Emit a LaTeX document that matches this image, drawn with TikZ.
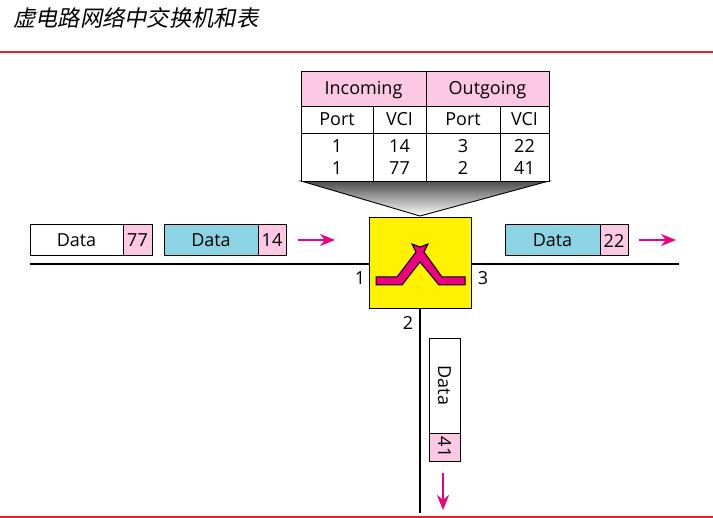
\documentclass[tikz,border=0pt]{standalone}
\usepackage{fontspec}
\setmainfont{Open Sans}
\newfontfamily\cjk[FakeSlant=0.2]{Noto Sans CJK SC}
\usetikzlibrary{arrows.meta}
\definecolor{pinkcell}{RGB}{252,200,228}
\definecolor{bluecell}{RGB}{140,212,228}
\definecolor{switchpink}{RGB}{236,0,130}
\definecolor{rulered}{RGB}{240,30,35}
\tikzset{
  cell/.style={draw=black,line width=0.9pt,inner sep=0pt,font=\fontsize{18}{18}\selectfont,text=black},
  flowarrow/.style={-{Stealth[length=15pt,width=12pt]},switchpink,line width=1.8pt},
  wire/.style={black,line width=1.6pt},
  rule/.style={rulered,line width=1.3pt}
}
\newcommand{\cellbox}[6]{% name, x1, y1, x2, y2, fill
  \path[cell,fill=#6] (#2,#3) rectangle (#4,#5) coordinate[pos=0.5] (#1);
}
\begin{document}
\begin{tikzpicture}[x=1pt,y=-1pt]
  \useasboundingbox (0,0) rectangle (713,518);

  % Title and rules
  \node[anchor=west,inner sep=0pt,font=\fontsize{22.3}{22.3}\selectfont] (title) at (13,18) {\cjk 虚电路网络中交换机和表};
  \draw[rule] (0,52) -- (713,52);
  \draw[rule] (0,517) -- (713,517);

  % Funnel under the table
  \draw[black,line width=0.9pt,top color=black!70,bottom color=white] (301,181) -- (549,181) -- (420,216) -- cycle;

  % Table
  \cellbox{inc}{301}{71}{426}{106}{pinkcell}
  \cellbox{out}{426}{71}{549}{106}{pinkcell}
  \cellbox{pa}{301}{106}{373}{133}{white}
  \cellbox{va}{373}{106}{426}{133}{white}
  \cellbox{pb}{426}{106}{500}{133}{white}
  \cellbox{vb}{500}{106}{549}{133}{white}
  \cellbox{ra}{301}{133}{373}{181}{white}
  \cellbox{rb}{373}{133}{426}{181}{white}
  \cellbox{rc}{426}{133}{500}{181}{white}
  \cellbox{rd}{500}{133}{549}{181}{white}
  \node[cell,draw=none,yshift=-1.5pt] (incT) at (inc) {Incoming};
  \node[cell,draw=none,yshift=-1.5pt] (outT) at (out) {Outgoing};
  \node[cell,draw=none] (paT) at (pa) {Port};
  \node[cell,draw=none] (vaT) at (va) {VCI};
  \node[cell,draw=none] (pbT) at (pb) {Port};
  \node[cell,draw=none] (vbT) at (vb) {VCI};
  \foreach \col/\top/\low in {ra/1/1,rb/14/77,rc/3/2,rd/22/41}{
    \node[cell,draw=none,yshift=11pt] (\col T) at (\col) {\top};
    \node[cell,draw=none,yshift=-11pt] (\col L) at (\col) {\low};
  }

  % Switch
  \node[draw=black,line width=1pt,fill=yellow,minimum width=102pt,minimum height=91pt,inner sep=0pt] (switch) at (420,263.5) {};
  \coordinate (leftend) at (30,264);
  \coordinate (rightend) at (679,264);
  \coordinate (downend) at (420,513);
  \draw[wire] (leftend) -- (switch.west |- leftend);
  \draw[wire] (switch.east |- rightend) -- (rightend);
  \draw[wire] (switch.south) -- (downend);
  \draw[fill=switchpink,draw=black,line width=1pt]
    (376,277) -- (397,277) -- (416,252) -- (412,244) -- (420,247) -- (428,244) -- (424,252)
    -- (442,277) -- (465,277) -- (465,285) -- (439,285) -- (420,262) -- (402,285) -- (376,285) -- cycle;
  \node[cell,draw=none] (portA) at (360,278) {1};
  \node[cell,draw=none] (portC) at (483,278) {3};
  \node[cell,draw=none] (portB) at (408,323) {2};

  % Packets
  \cellbox{dataA}{30}{224}{123}{255}{white}
  \cellbox{vciA}{123}{224}{152}{255}{pinkcell}
  \cellbox{dataB}{164}{224}{258}{255}{bluecell}
  \cellbox{vciB}{258}{224}{286}{255}{pinkcell}
  \cellbox{dataC}{505}{224}{600}{255}{bluecell}
  \cellbox{vciC}{600}{224}{628}{255}{pinkcell}
  \cellbox{dataD}{429}{338}{460}{433}{white}
  \cellbox{vciD}{429}{433}{460}{461}{pinkcell}
  \node[cell,draw=none,yshift=-1pt] (dataAT) at (dataA) {Data};
  \node[cell,draw=none,yshift=-1pt] (vciAT) at (vciA) {77};
  \node[cell,draw=none,yshift=-1pt] (dataBT) at (dataB) {Data};
  \node[cell,draw=none,yshift=-1pt] (vciBT) at (vciB) {14};
  \node[cell,draw=none,yshift=-1pt] (dataCT) at (dataC) {Data};
  \node[cell,draw=none,yshift=-1pt] (vciCT) at (vciC) {22};
  \node[cell,draw=none,rotate=-90] (dataDT) at (dataD) {Data};
  \node[cell,draw=none,rotate=-90] (vciDT) at (vciD) {41};

  % Arrows
  \coordinate (arrAs) at (298,240);
  \coordinate (arrAe) at (335,240);
  \coordinate (arrBs) at (639,240);
  \coordinate (arrBe) at (676,240);
  \coordinate (arrCs) at (443,473);
  \coordinate (arrCe) at (443,510);
  \draw[flowarrow] (arrAs) -- (arrAe);
  \draw[flowarrow] (arrBs) -- (arrBe);
  \draw[flowarrow] (arrCs) -- (arrCe);
\end{tikzpicture}
\end{document}
